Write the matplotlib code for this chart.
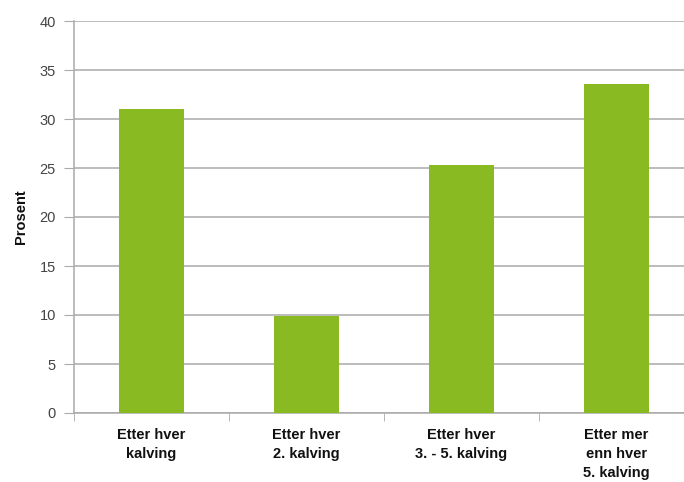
import matplotlib
matplotlib.use("Agg")
import matplotlib.pyplot as plt
import numpy as np

categories = ["Etter hver\nkalving", "Etter hver\n2. kalving", "Etter hver\n3. - 5. kalving", "Etter mer\nenn hver\n5. kalving"]
values = [31.0, 9.9, 25.3, 33.6]
yticks = [0, 5, 10, 15, 20, 25, 30, 35, 40]

plt.rcParams['font.family'] = ['Liberation Sans', 'DejaVu Sans']

fig = plt.figure(figsize=(6.84, 4.82), dpi=100)
ax = fig.add_axes([74/684, 69/482, 620/684, 392/482])

x = np.arange(len(categories)) + 0.5
ax.bar(x, values, width=0.42, color='#89ba21', zorder=3)

ax.set_xlim(0, 4)
ax.set_ylim(0, 40)
ax.set_yticks(yticks)
ax.set_yticklabels([str(t) for t in yticks], fontsize=10.5, color='#444444')
ax.yaxis.grid(True, color='#aaaaaa', linewidth=1.1, zorder=0)
ax.set_axisbelow(True)

ax.set_xticks(x)
ax.set_xticklabels(categories, fontsize=10.5, fontweight='bold', color='#111111', linespacing=1.42)
ax.set_xticks(np.arange(0, 5), minor=True)
ax.tick_params(axis='x', which='major', length=0, pad=11)
ax.tick_params(axis='x', which='minor', length=6, color='#aaaaaa', direction='out')
ax.tick_params(axis='y', length=7, color='#aaaaaa', pad=6)

for s in ['top', 'right']:
    ax.spines[s].set_visible(False)
for s in ['left', 'bottom']:
    ax.spines[s].set_color('#aaaaaa')
    ax.spines[s].set_linewidth(1.1)

ax.set_ylabel("Prosent", fontsize=10.5, fontweight='bold', color='#111111', labelpad=8)

fig.savefig("out.png", dpi=100)
